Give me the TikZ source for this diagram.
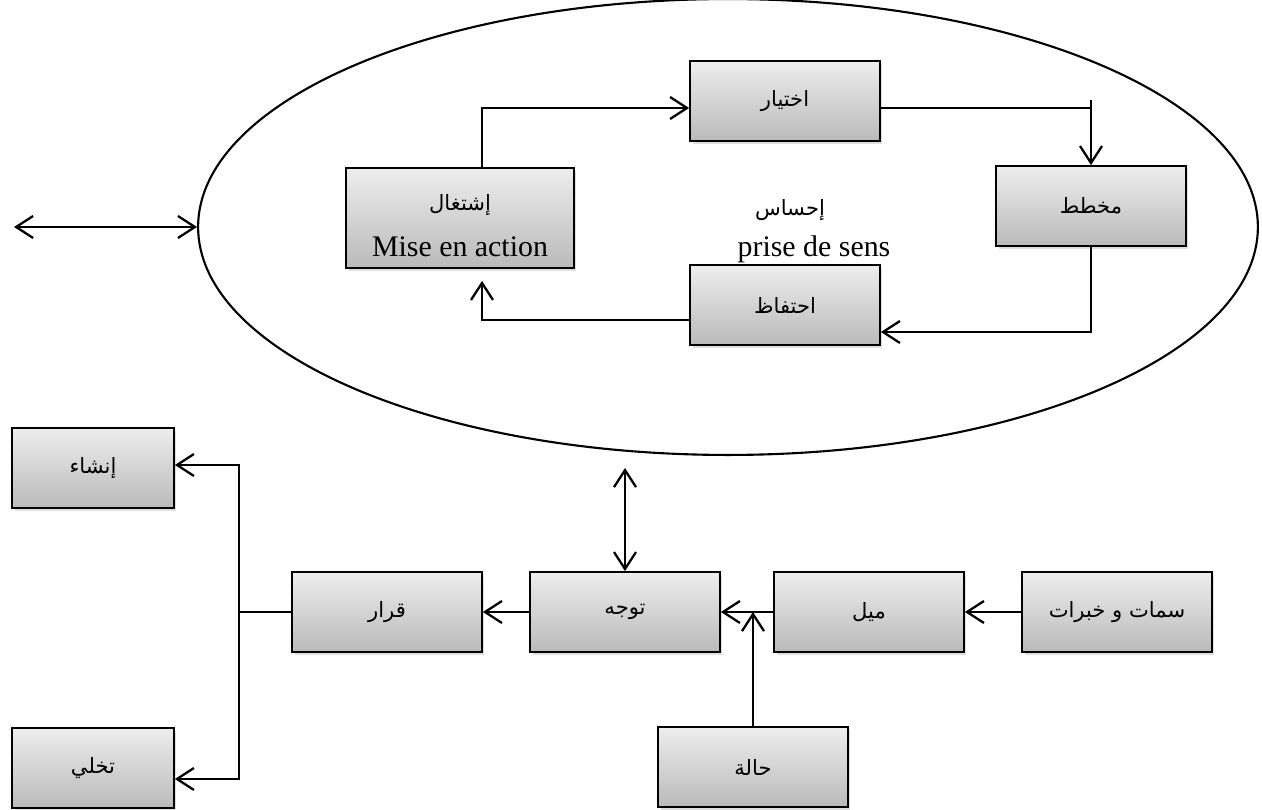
\documentclass[tikz,border=0pt]{standalone}
\usepackage{fontspec}
\setmainfont{Liberation Serif}
\newfontfamily\arabicfont[Script=Arabic]{DejaVu Sans}
\TeXXeTstate=1
\usetikzlibrary{arrows.meta,shapes.geometric,shadows}
\newcommand\artext[1]{{\arabicfont\fontsize{12}{14}\selectfont\beginR #1\endR}}

\begin{document}
\begin{tikzpicture}[
  x=0.02cm, y=-0.02cm,
  box/.style={draw, line width=1pt, minimum width=3.8cm, minimum height=1.6cm,
    inner sep=0pt, top color=black!7, bottom color=black!27,
    drop shadow={shadow xshift=0.05cm, shadow yshift=-0.06cm, opacity=0.25}},
  smallbox/.style={box, minimum width=3.24cm},
  flow/.style={line width=1.3pt, -{Straight Barb[length=0.34cm, width=0.44cm]}},
  twoway/.style={line width=1.3pt, {Straight Barb[length=0.34cm, width=0.44cm]}-{Straight Barb[length=0.34cm, width=0.44cm]}},
  plain/.style={line width=0.9pt},
  latin/.style={font=\fontsize{17}{19}\selectfont, inner sep=0pt, anchor=base}
]
\useasboundingbox (0,0) rectangle (1262,810);

% the sense-making cycle
\node[draw, ellipse, line width=1.2pt, minimum width=21.2cm, minimum height=9.12cm, inner sep=0pt] (ell) at (728,227) {};
\coordinate (lend) at (14,227);
\draw[twoway] (lend) -- (ell.west);

\node[box] (A) at (785,101) {\artext{اختيار}};
\node[box] (B) at (1091,206) {\artext{مخطط}};
\node[box] (C) at (785,305) {\artext{احتفاظ}};
\node[box, minimum width=4.56cm, minimum height=2cm] (D) at (460,218) {};
\node (Dar) at (460,205) {\artext{إشتغال}};
\node[latin] (Dlat) at (460,257) {Mise en action};

\node (sense) at (790,210) {\artext{إحساس}};
\node[latin] (senselat) at (814,257) {prise de sens};

\draw[flow] (D.north -| 482,0) -- (482,108) -- (A.west |- 0,108);
\draw[plain] (A.east |- 0,108) -- (B.north |- 0,108);
\draw[flow] (B.north |- 0,100) -- (B.north);
\draw[flow] (B.south) -- (B.south |- 0,332) -- (C.east |- 0,332);
\draw[flow, shorten >=0.24cm] (C.west |- 0,320) -- (482,320) -- (D.south -| 482,0);

% decision chain
\node[smallbox] (E) at (93,468) {\artext{إنشاء}};
\node[smallbox] (F) at (93,768) {\artext{تخلي}};
\node[box] (G) at (387,612) {\artext{قرار}};
\node[box] (H) at (625,612) {\artext{توجه}};
\node[box] (I) at (869,612) {\artext{ميل}};
\node[box] (J) at (1117,612) {\artext{سمات و خبرات}};
\node[box] (K) at (753,767) {\artext{حالة}};

\coordinate (fork) at (239,612);
\draw[plain] (G.west) -- (fork);
\draw[flow] (fork) -- (fork |- 0,465) -- (E.east |- 0,465);
\draw[flow] (fork) -- (fork |- 0,779) -- (F.east |- 0,779);

\draw[flow] (H.west) -- (G.east);
\draw[flow] (I.west) -- (H.east);
\draw[flow] (J.west) -- (I.east);
\draw[flow] (K.north) -- (K.north |- H.east);
\draw[twoway, shorten <=0.24cm] (ell.south -| H.north) -- (H.north);
\end{tikzpicture}
\end{document}
